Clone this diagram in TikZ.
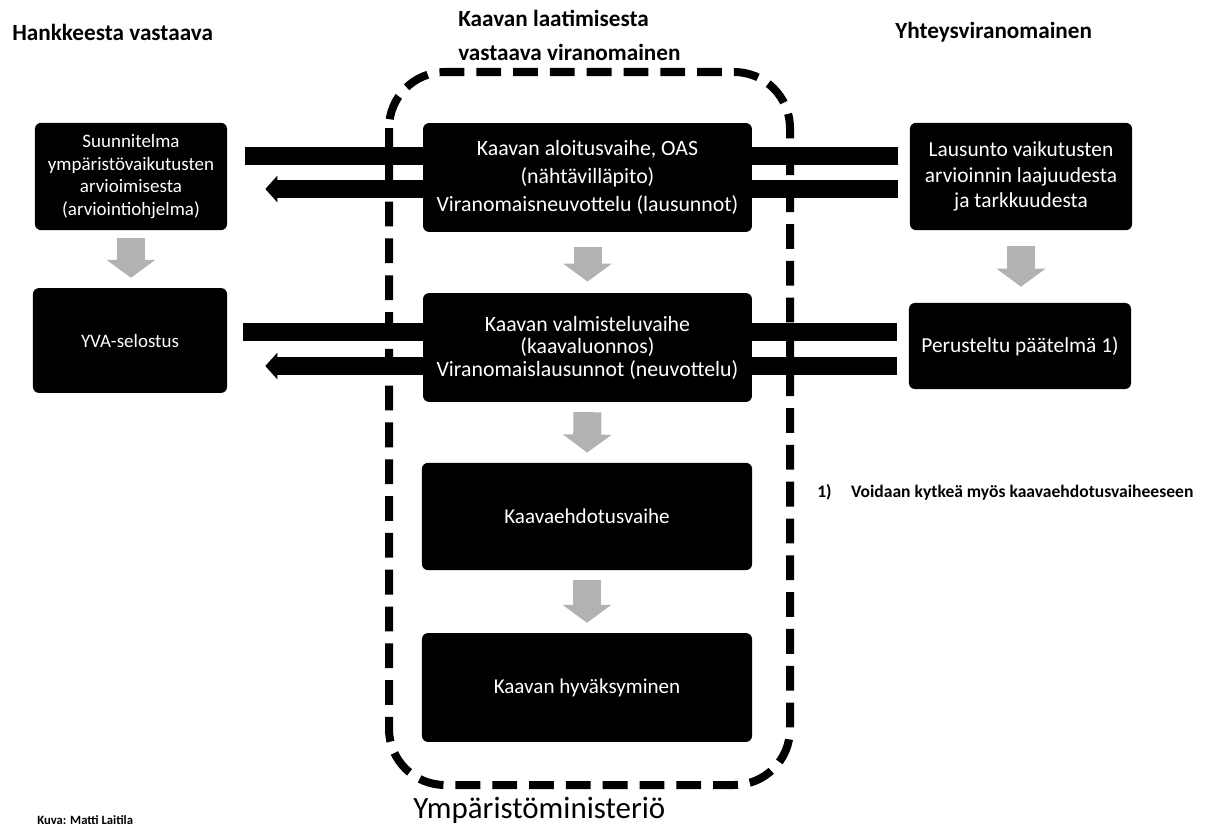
\documentclass[tikz,border=0pt]{standalone}
\usepackage{fontspec}
\setmainfont{Carlito}
\usetikzlibrary{arrows.meta}
\tikzset{
  phase/.style={fill=black, rounded corners=0.15cm, text=white, align=center, inner sep=0pt},
  head/.style={font=\bfseries\fontsize{16.5}{24}\selectfont, align=left, inner sep=0pt},
  bar/.style={line width=0.43cm, black},
  barback/.style={bar, -{Triangle[width=0.65cm,length=0.3cm]}},
  downarrow/.style={line width=0.7cm, gray!60, -{Triangle[width=1.2cm,length=0.45cm]}},
  frame/.style={line width=0.2cm, dash pattern=on 0.62cm off 0.3cm, rounded corners=1.4cm}
}

\begin{document}
\begin{tikzpicture}[x=0.025cm, y=-0.025cm]
			\useasboundingbox (0,0) rectangle (1206,828);
			
			%%%%% HEADERS %%%%%
			\node[head, anchor=west] (hHanke) at (12,32) {Hankkeesta vastaava};
			\node[head, anchor=north west] (hKaava) at (458,10) {Kaavan laatimisesta\\vastaava viranomainen};
			\node[head, anchor=west] (hYhteys) at (895,32) {Yhteysviranomainen};
			
			%%%%% LEFT COLUMN %%%%%
			\node[phase, minimum width=4.8cm, minimum height=2.68cm, font=\fontsize{13.5}{16}\selectfont] (ohjelma) at (131,176.5) {Suunnitelma\\ympäristövaikutusten\\arvioimisesta\\(arviointiohjelma)};
			\node[phase, minimum width=4.85cm, minimum height=2.62cm, font=\fontsize{13.5}{16}\selectfont] (selostus) at (130,340.5) {YVA-selostus};
			
			%%%%% MIDDLE COLUMN %%%%%
			\node[phase, minimum width=8.22cm, minimum height=2.72cm, font=\fontsize{15.5}{20}\selectfont] (aloitus) at (587.5,177.5) {Kaavan aloitusvaihe, OAS\\(nähtävilläpito)\\Viranomaisneuvottelu (lausunnot)};
			\node[phase, minimum width=8.22cm, minimum height=2.72cm, font=\fontsize{15.5}{16}\selectfont] (valmistelu) at (587.5,347.5) {Kaavan valmisteluvaihe\\(kaavaluonnos)\\Viranomaislausunnot (neuvottelu)};
			\node[phase, minimum width=8.25cm, minimum height=2.68cm, font=\fontsize{15}{18}\selectfont] (ehdotus) at (587,516.5) {Kaavaehdotusvaihe};
			\node[phase, minimum width=8.25cm, minimum height=2.72cm, font=\fontsize{15}{18}\selectfont] (hyvaksyminen) at (587,687.5) {Kaavan hyväksyminen};
			
			%%%%% RIGHT COLUMN %%%%%
			\node[phase, minimum width=5.55cm, minimum height=2.68cm, font=\fontsize{15.2}{18}\selectfont] (lausunto) at (1021,176.5) {Lausunto vaikutusten\\arvioinnin laajuudesta\\ja tarkkuudesta};
			\node[phase, minimum width=5.55cm, minimum height=2.15cm, font=\fontsize{15.2}{18}\selectfont] (paatelma) at (1020,346) {Perusteltu päätelmä 1)};
			
			%%%%% BARS %%%%%
			\coordinate (r1a) at (0,156);
			\coordinate (r1b) at (0,189);
			\coordinate (r2a) at (0,332);
			\coordinate (r2b) at (0,366);
			
			\draw[bar, shorten <=0.45cm] (ohjelma.east |- r1a) -- (aloitus.west |- r1a);
			\draw[bar, shorten >=0.3cm] (aloitus.east |- r1a) -- (lausunto.west |- r1a);
			\draw[bar, shorten <=0.3cm] (lausunto.west |- r1b) -- (aloitus.east |- r1b);
			\draw[barback, shorten >=0.95cm] (aloitus.west |- r1b) -- (ohjelma.east |- r1b);
			
			\draw[bar, shorten <=0.4cm] (selostus.east |- r2a) -- (valmistelu.west |- r2a);
			\draw[bar, shorten >=0.28cm] (valmistelu.east |- r2a) -- (paatelma.west |- r2a);
			\draw[bar, shorten <=0.28cm] (paatelma.west |- r2b) -- (valmistelu.east |- r2b);
			\draw[barback, shorten >=0.95cm] (valmistelu.west |- r2b) -- (selostus.east |- r2b);
			
			%%%%% FRAME %%%%%
			\draw[frame] (389,72) rectangle (790,785);
			
			%%%%% DOWN ARROWS %%%%%
			\draw[downarrow, shorten <=0.2cm, shorten >=0.25cm] (ohjelma.south) -- (ohjelma.south |- selostus.north);
			\draw[downarrow, shorten <=0.38cm, shorten >=0.28cm] (aloitus.south) -- (valmistelu.north);
			\draw[downarrow, shorten <=0.25cm, shorten >=0.25cm] (valmistelu.south) -- (ehdotus.north);
			\draw[downarrow, shorten <=0.25cm, shorten >=0.25cm] (ehdotus.south) -- (hyvaksyminen.north);
			\draw[downarrow, shorten <=0.38cm, shorten >=0.4cm] (lausunto.south) -- (lausunto.south |- paatelma.north);
			
			%%%%% NOTES %%%%%
			\node[anchor=west, inner sep=0pt, font=\bfseries\fontsize{12.5}{15}\selectfont] (huom) at (817,492) {1)\hspace{1.1em}Voidaan kytkeä myös kaavaehdotusvaiheeseen};
			\node[anchor=base west, inner sep=0pt, font=\fontsize{22}{26}\selectfont] (ministerio) at (413,818) {Ympäristöministeriö};
			\node[anchor=base west, inner sep=0pt, font=\bfseries\fontsize{9}{11}\selectfont] (kuva) at (37,824) {Kuva: Matti Laitila};
			
\end{tikzpicture}
\end{document}
